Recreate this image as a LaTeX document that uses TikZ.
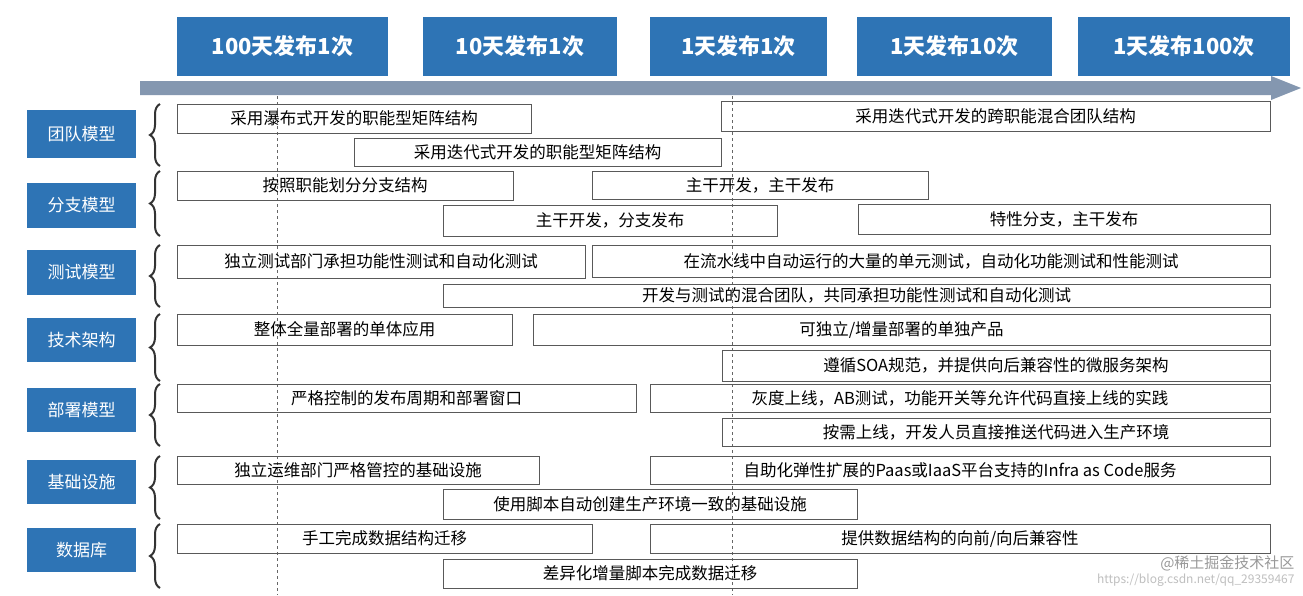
\documentclass[tikz,border=0pt]{standalone}
\usepackage{fontspec}
\setmainfont{Noto Sans CJK SC}
\usetikzlibrary{decorations.pathreplacing}
\definecolor{hb}{HTML}{2E74B5}
\definecolor{ar}{HTML}{8497B0}
\begin{document}
\begin{tikzpicture}[x=1pt,y=-1pt,
 top/.style={fill=hb,text=white,font=\fontsize{22}{24}\selectfont\bfseries},
 lab/.style={fill=hb,text=white,font=\fontsize{17}{20}\selectfont},
 item/.style={draw=black!65,line width=0.8pt,font=\fontsize{16.5}{18}\selectfont},
 br/.style={decorate,decoration={brace,amplitude=10pt},line width=2pt,draw=black!80}]
\useasboundingbox (0,0) rectangle (1303,595);
\fill[white] (0,0) rectangle (1303,595);
% top boxes
\foreach \a/\b/\t [count=\i] in {177/388/100天发布1次,423/617/10天发布1次,650/827/1天发布1次,857/1052/1天发布10次,1078/1290/1天发布100次}
  \path[top] (\a,17) rectangle (\b,76) node[midway] (t\i) {\t};
% arrow
\fill[ar] (140,81) -- (1271,81) -- (1271,76) -- (1301,88) -- (1271,100) -- (1271,95) -- (140,95) -- cycle;
% dashed lines
\draw[dashed,black!60,line width=0.7pt] (277,96) -- (277,595);
\draw[dashed,black!60,line width=0.7pt] (732,96) -- (732,595);
% labels and braces
\foreach \t/\a/\b/\c/\d [count=\i] in {团队模型/110/158/104/166,分支模型/183/228/171/236,测试模型/250/295/245/307,技术架构/318/362/314/381,部署模型/388/432/384/446,基础设施/460/504/456/519,数据库/528/572/524/588}{
  \path[lab] (27,\a) rectangle (136,\b) node[midway] (l\i) {\t};
  \draw[br] (160,\d) -- (160,\c);
}
% items
\foreach \a/\b/\c/\d/\t [count=\i] in {
177/531/104/133/{采用瀑布式开发的职能型矩阵结构},
354/721/138/166/{采用迭代式开发的职能型矩阵结构},
721/1270/101/131/{采用迭代式开发的跨职能混合团队结构},
177/513/171/200/{按照职能划分分支结构},
592/928/171/199/{主干开发，主干发布},
443/777/205/236/{主干开发，分支发布},
858/1270/204/234/{特性分支，主干发布},
177/585/245/278/{独立测试部门承担功能性测试和自动化测试},
592/1270/245/277/{在流水线中自动运行的大量的单元测试，自动化功能测试和性能测试},
443/1270/284/307/{开发与测试的混合团队，共同承担功能性测试和自动化测试},
177/512/314/345/{整体全量部署的单体应用},
533/1270/314/345/{可独立/增量部署的单独产品},
722/1270/350/381/{遵循SOA规范，并提供向后兼容性的微服务架构},
177/636/384/412/{严格控制的发布周期和部署窗口},
650/1270/384/412/{灰度上线，AB测试，功能开关等允许代码直接上线的实践},
722/1270/418/446/{按需上线，开发人员直接推送代码进入生产环境},
177/539/456/484/{独立运维部门严格管控的基础设施},
650/1270/456/484/{自助化弹性扩展的Paas或IaaS平台支持的Infra as Code服务},
443/857/489/519/{使用脚本自动创建生产环境一致的基础设施},
177/592/524/553/{手工完成数据结构迁移},
650/1270/524/553/{提供数据结构的向前/向后兼容性},
443/857/559/588/{差异化增量脚本完成数据迁移}}
  \path[item] (\a,\c) rectangle (\b,\d) node[midway] (n\i) {\t};
% watermark
\node[anchor=east,text=black!40,font=\fontsize{15}{17}\selectfont] (wm1) at (1298,563) {@稀土掘金技术社区};
\node[anchor=east,text=black!25,font=\fontsize{12}{14}\selectfont] (wm2) at (1298,580) {https://blog.csdn.net/qq\_29359467};
\end{tikzpicture}
\end{document}
